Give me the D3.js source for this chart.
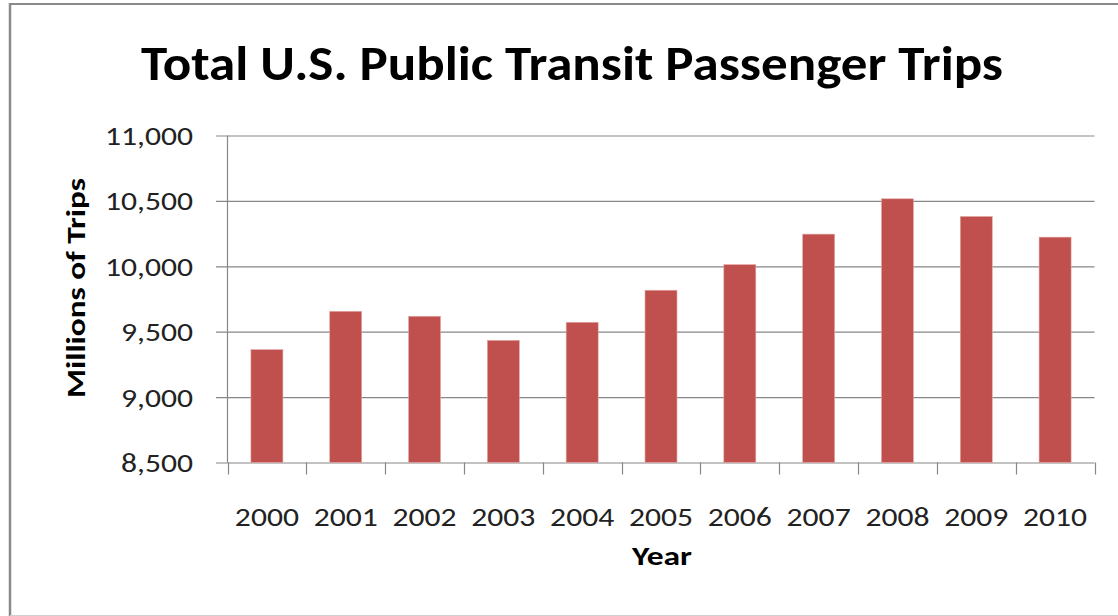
<!DOCTYPE html>
<html>
<head>
<meta charset="utf-8">
<script src="https://cdn.jsdelivr.net/npm/d3@7"></script>
<style>
  html, body { margin: 0; padding: 0; background: #fff; }
  svg { display: block; }
  text { font-family: Carlito, Calibri, Lato, "Open Sans", sans-serif; }
</style>
</head>
<body>
<svg id="chart" width="1118" height="616"></svg>
<script>
// Total U.S. public transit passenger trips, millions
const years = ["2000", "2001", "2002", "2003", "2004", "2005", "2006", "2007", "2008", "2009", "2010"];
const trips = [9363, 9656, 9618, 9434, 9572, 9817, 10013, 10246, 10516, 10381, 10223];
const yTicks = [8500, 9000, 9500, 10000, 10500, 11000];

const W = 1118, H = 616;
const plot = { left: 227.5, right: 1094.5, top: 135.5, bottom: 462.5 };

const svg = d3.select("#chart");

// squeeze a text element horizontally to a given width
function fitWidth(node, target) {
  const w = node.getComputedTextLength();
  if (w > 0) {
    d3.select(node).attr("textLength", target).attr("lengthAdjust", "spacingAndGlyphs");
  }
}

// outer frame
svg.append("rect").attr("x", 0).attr("y", 0).attr("width", W).attr("height", H).attr("fill", "#fff");
svg.append("line").attr("x1", 9).attr("x2", W).attr("y1", 4).attr("y2", 4)
  .attr("stroke", "#8a8a8a").attr("stroke-width", 2);
svg.append("line").attr("x1", 10).attr("x2", 10).attr("y1", 3).attr("y2", H)
  .attr("stroke", "#8a8a8a").attr("stroke-width", 2.5);
svg.append("line").attr("x1", 10).attr("x2", W).attr("y1", 615.5).attr("y2", 615.5)
  .attr("stroke", "#d0d0d0").attr("stroke-width", 1);

const x = d3.scaleBand().domain(years).range([plot.left, plot.right])
  .paddingInner(0.6).paddingOuter(0.3);
const xb = d3.scaleBand().domain(years).range([plot.left, plot.right]);
const y = d3.scaleLinear().domain([8500, 11000]).range([plot.bottom, plot.top]);

// horizontal gridlines with outer tick marks
const yAxis = d3.axisLeft(y).tickValues(yTicks).tickSize(-(plot.right - plot.left)).tickFormat("");
const gy = svg.append("g").attr("transform", `translate(${plot.left},0)`).call(yAxis);
gy.select(".domain").remove();
gy.selectAll(".tick line").attr("stroke", "#878787").attr("stroke-width", 1.2)
  .attr("x1", -11.5);

// vertical axis line
svg.append("line").attr("x1", plot.left).attr("x2", plot.left)
  .attr("y1", plot.top).attr("y2", plot.bottom)
  .attr("stroke", "#878787").attr("stroke-width", 1.2);

// bars
svg.append("g").selectAll("rect").data(years).join("rect")
  .attr("x", d => xb(d) + (xb.bandwidth() - 32) / 2)
  .attr("width", 32)
  .attr("y", (d, i) => y(trips[i]))
  .attr("height", (d, i) => y(8500) - y(trips[i]))
  .attr("fill", "#c0504d")
  .attr("stroke", "#e3a9a7").attr("stroke-width", 0.6);

// category boundary ticks on the x axis
const bounds = years.map(d => xb(d)).concat([plot.right]);
svg.append("g").selectAll("line").data(bounds).join("line")
  .attr("x1", d => Math.round(d) + 0.5).attr("x2", d => Math.round(d) + 0.5)
  .attr("y1", plot.bottom).attr("y2", plot.bottom + 12)
  .attr("stroke", "#878787").attr("stroke-width", 1.2);

// y tick labels
const fmt = d3.format(",");
const yl = svg.append("g").selectAll("text").data(yTicks).join("text")
  .attr("x", 193).attr("y", d => y(d) + 9.5)
  .attr("text-anchor", "end").attr("font-size", 27).attr("fill", "#222")
  .text(d => fmt(d));
const ref = yl.filter(d => d === 11000).node().getComputedTextLength();
const kTick = 88 / ref;
yl.each(function () { fitWidth(this, this.getComputedTextLength() * kTick); });

// x tick labels
const xl = svg.append("g").selectAll("text").data(years).join("text")
  .attr("x", d => xb(d) + xb.bandwidth() / 2).attr("y", 526)
  .attr("text-anchor", "middle").attr("font-size", 27).attr("fill", "#222")
  .text(d => d);
xl.each(function () { fitWidth(this, this.getComputedTextLength() * kTick); });

// axis titles
const xt = svg.append("text").attr("x", 662).attr("y", 565)
  .attr("text-anchor", "middle").attr("font-size", 26).attr("font-weight", "bold")
  .attr("fill", "#000").text("Year");
fitWidth(xt.node(), 60);

const yt = svg.append("text")
  .attr("transform", "translate(85,288) rotate(-90)")
  .attr("text-anchor", "middle").attr("font-size", 27).attr("font-weight", "bold")
  .attr("fill", "#000").text("Millions of Trips");
fitWidth(yt.node(), 220);

// chart title
const tt = svg.append("text").attr("x", 572).attr("y", 80)
  .attr("text-anchor", "middle").attr("font-size", 48).attr("font-weight", "bold")
  .attr("fill", "#000").text("Total U.S. Public Transit Passenger Trips");
fitWidth(tt.node(), 862);
</script>
</body>
</html>
